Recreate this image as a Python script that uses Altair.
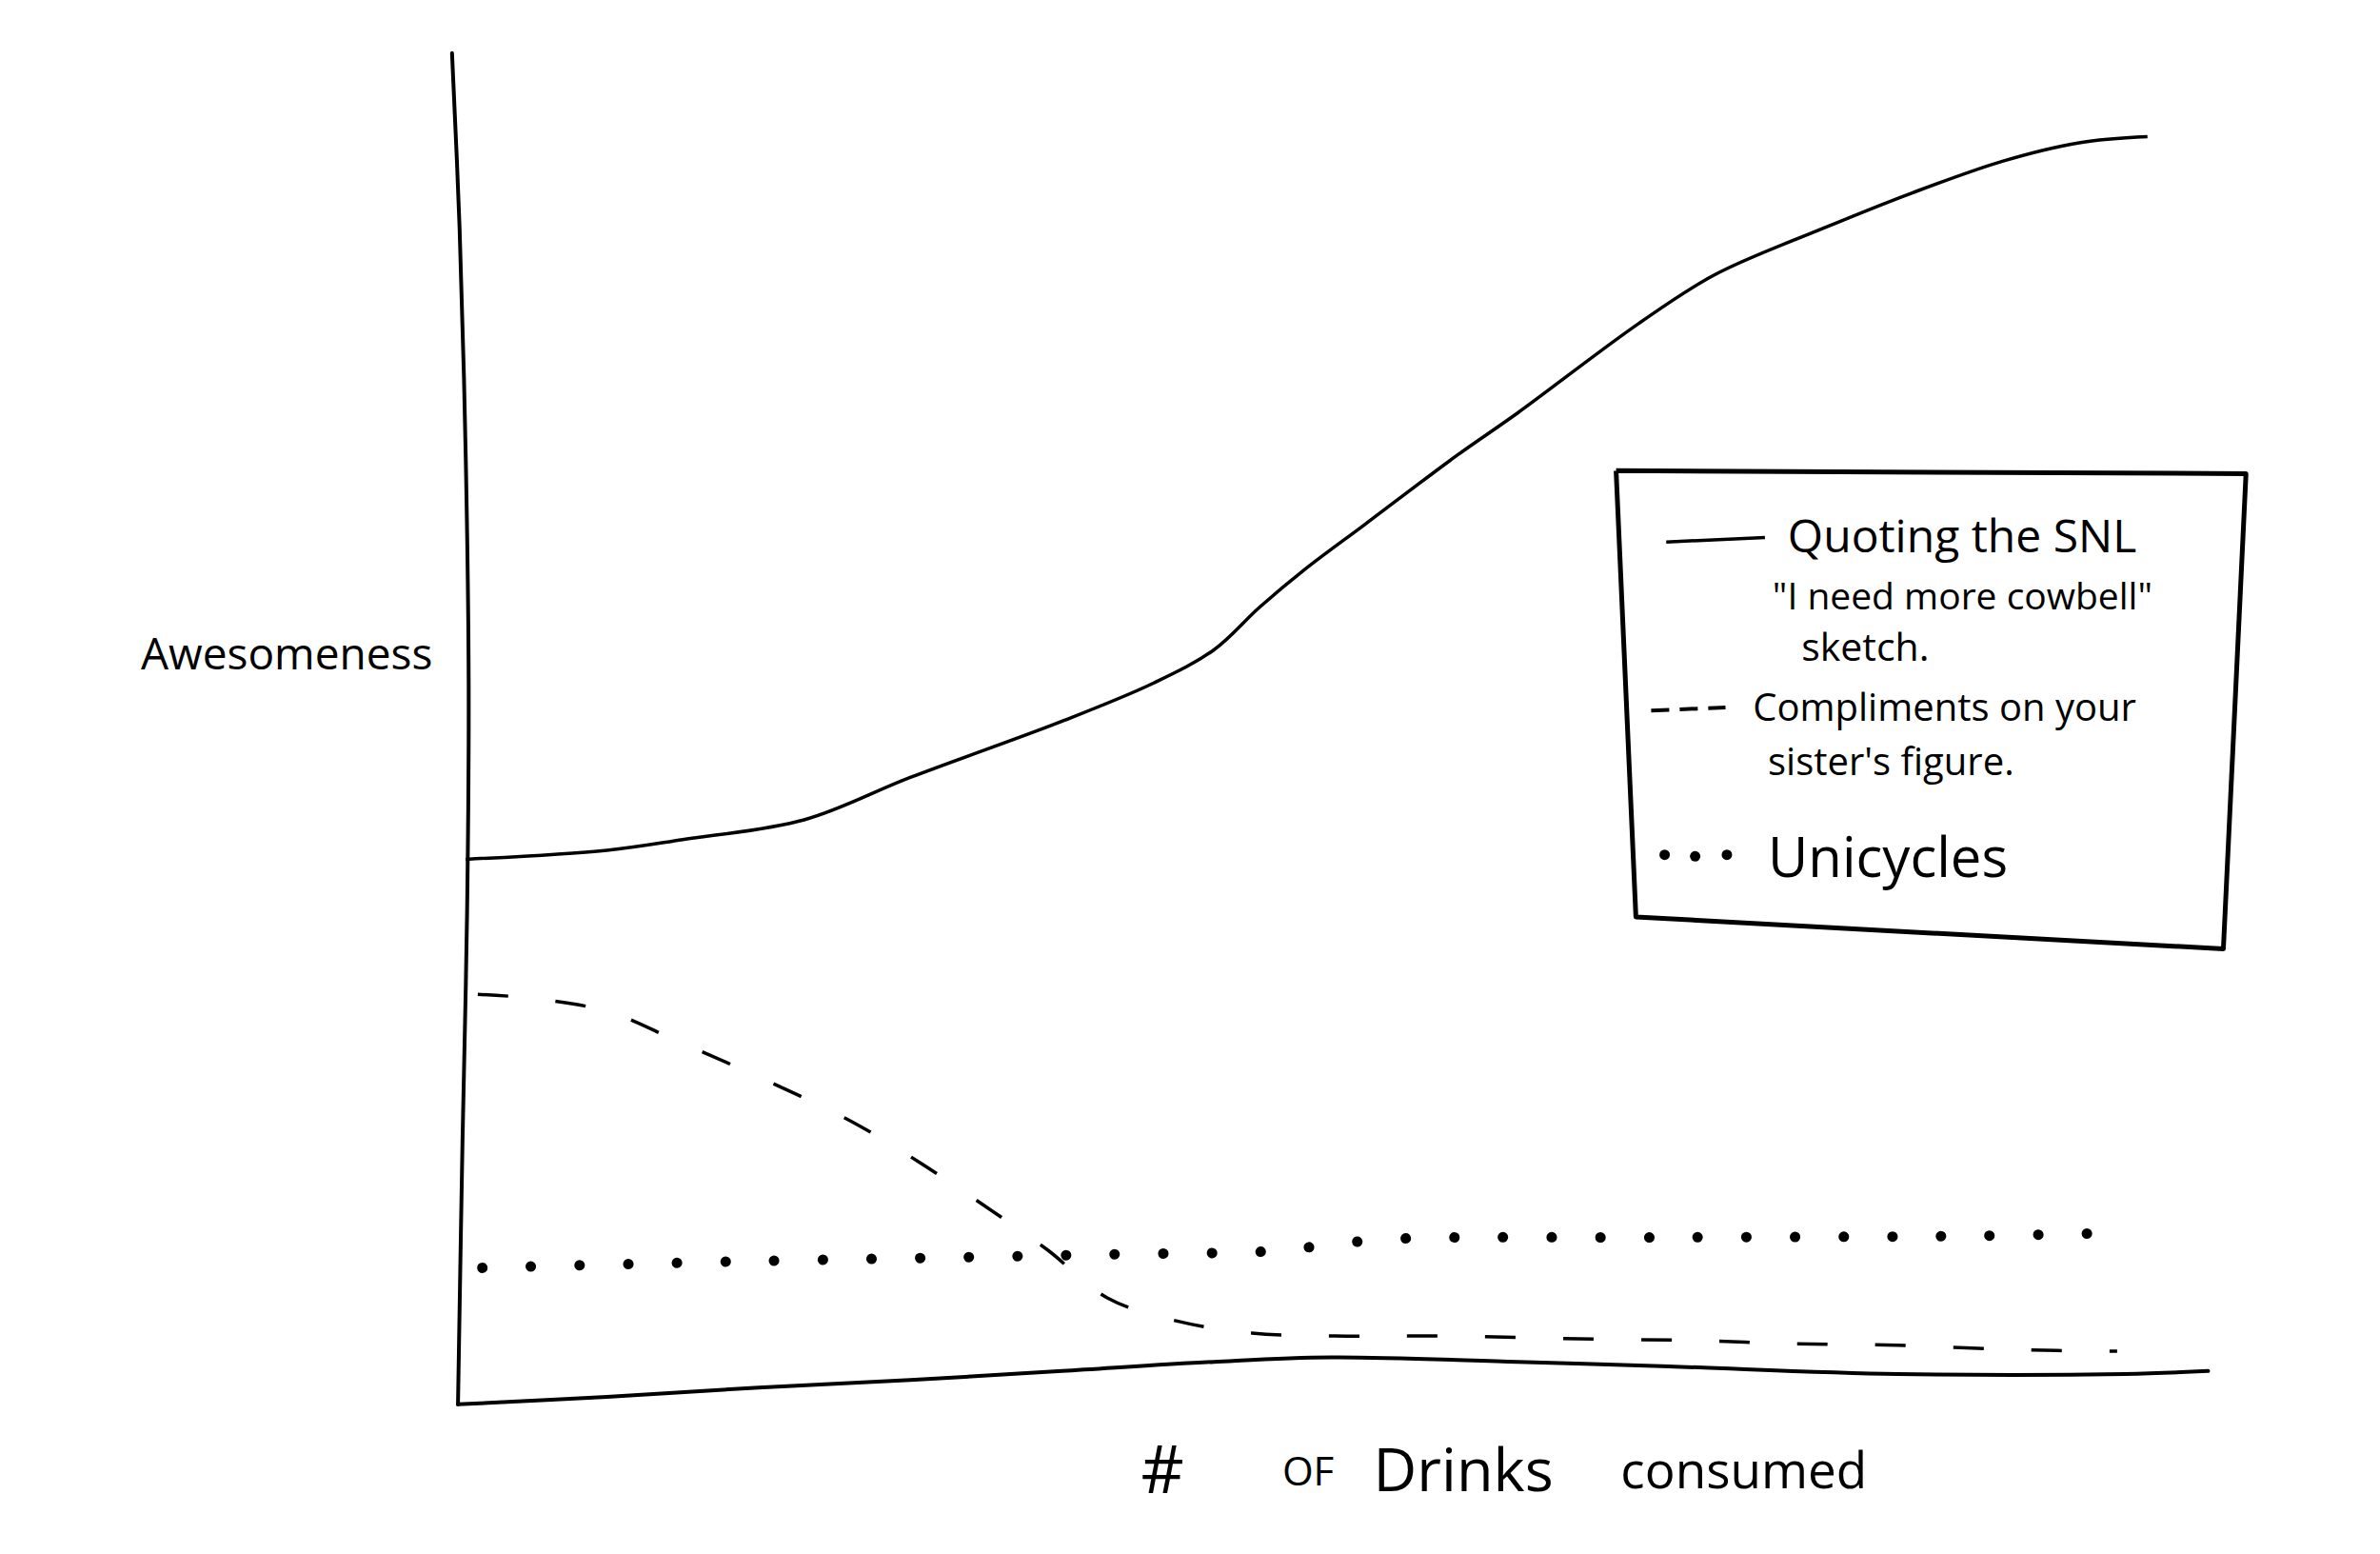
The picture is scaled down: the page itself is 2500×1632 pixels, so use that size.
import altair as alt
import pandas as pd

# ---- data (x = drinks units 0..10, y = awesomeness units 0..100) ----
solid_x = [0.061, 0.866, 1.299, 1.991, 2.597, 3.463, 3.983, 4.329, 4.589, 4.848, 5.195,
           5.714, 6.061, 6.753, 7.186, 7.792, 8.312, 8.831, 9.264, 9.654]
solid_y = [40.34, 41.01, 41.80, 43.26, 46.40, 50.56, 53.37, 55.84, 58.99, 61.80, 65.17,
           70.22, 73.37, 80.00, 83.60, 86.97, 89.66, 92.02, 93.37, 93.82]

dash_x = [0.13, 0.39, 0.866, 1.255, 1.688, 2.251, 2.641, 3.030, 3.377, 3.723, 4.113,
          4.545, 5.022, 5.628, 6.494, 7.100, 7.619, 8.225, 8.918, 9.481]
dash_y = [30.34, 30.11, 29.10, 26.97, 24.49, 21.01, 17.98, 14.61, 11.46, 7.87, 6.18,
          5.28, 5.06, 5.06, 4.83, 4.72, 4.49, 4.38, 4.04, 3.93]

dot_x = [0.156, 1.558, 2.944, 3.810, 4.675, 4.978, 5.368, 6.926, 8.658, 9.481]
dot_y = [10.11, 10.56, 10.90, 11.12, 11.35, 11.80, 12.25, 12.36, 12.47, 12.70]

yaxis_x = [-0.017, 0.026, 0.061, 0.078, 0.069, 0.043, 0.017]
yaxis_y = [100.0, 87.08, 70.22, 53.37, 36.52, 19.66, 0.0]

xaxis_x = [0.017, 0.866, 1.732, 2.597, 3.463, 4.329, 4.996, 6.061, 6.926, 8.225, 9.524, 10.0]
xaxis_y = [0.0, 0.56, 1.24, 1.80, 2.47, 3.15, 3.48, 3.15, 2.81, 2.25, 2.25, 2.47]

box_x = [6.623, 10.216, 10.087, 6.736, 6.623]
box_y = [69.10, 68.88, 33.71, 36.07, 69.10]

leg_solid_x = [6.909, 7.472]
leg_solid_y = [63.82, 64.16]
leg_dash_x = [6.823, 7.247]
leg_dash_y = [51.35, 51.57]
leg_dot_x = [6.900, 7.074, 7.255]
leg_dot_y = [40.67, 40.56, 40.67]

text_labels = ["Quoting the SNL", "\"I need more cowbell\"", "sketch.",
               "Compliments on your", "sister's figure.", "Unicycles",
               "Awesomeness", "#", "OF", "Drinks", "consumed"]
text_x = [7.602, 7.515, 7.680, 7.403, 7.489, 7.489, -1.792, 3.913, 4.719, 5.238, 6.649]
text_y = [64.04, 59.66, 55.84, 51.46, 47.42, 40.22, 55.39, -5.06, -5.06, -5.06, -5.06]
text_size = [48, 39, 41, 40, 40, 58, 46, 70, 42, 63, 53]

FONT = "Open Sans"

xs = alt.Scale(domain=[-2.552, 10.937], nice=False, zero=False)
ys = alt.Scale(domain=[-10.51, 103.37], nice=False, zero=False)
X = alt.X("x:Q", scale=xs, axis=None)
Y = alt.Y("y:Q", scale=ys, axis=None)


def line_layer(lx, ly, **kw):
    df = pd.DataFrame({"x": lx, "y": ly, "i": list(range(len(lx)))})
    return alt.Chart(df).mark_line(**kw).encode(x=X, y=Y, order="i:Q")


layers = [
    line_layer(yaxis_x, yaxis_y, color="black", strokeWidth=4, interpolate="catmull-rom", strokeCap="round"),
    line_layer(xaxis_x, xaxis_y, color="black", strokeWidth=4, interpolate="catmull-rom", strokeCap="round"),
    line_layer(solid_x, solid_y, color="black", strokeWidth=3.5, interpolate="catmull-rom"),
    line_layer(dash_x, dash_y, color="black", strokeWidth=3.5, interpolate="catmull-rom",
               strokeDash=[32, 50]),
    line_layer(dot_x, dot_y, color="black", strokeWidth=11, interpolate="catmull-rom",
               strokeDash=[0.1, 51], strokeCap="round"),
    line_layer(box_x, box_y, color="black", strokeWidth=5, interpolate="linear", strokeJoin="round"),
    line_layer(leg_solid_x, leg_solid_y, color="black", strokeWidth=3.5),
    line_layer(leg_dash_x, leg_dash_y, color="black", strokeWidth=4, strokeDash=[19, 11]),
    alt.Chart(pd.DataFrame({"x": leg_dot_x, "y": leg_dot_y})).mark_circle(
        color="black", size=120, opacity=1).encode(x=X, y=Y),
    alt.Chart(pd.DataFrame({"label": text_labels, "x": text_x, "y": text_y, "size": text_size}))
    .mark_text(align="left", baseline="middle", font=FONT, color="black")
    .encode(x=X, y=Y, text="label:N", size=alt.Size("size:Q", scale=None)),
]

chart = (
    alt.layer(*layers)
    .properties(width=2484, height=1616, padding=0,
                autosize=alt.AutoSizeParams(type="none"), background="white")
    .configure_view(strokeWidth=0)
)

chart.save("out.html", embed_options={"renderer": "svg", "actions": False})
